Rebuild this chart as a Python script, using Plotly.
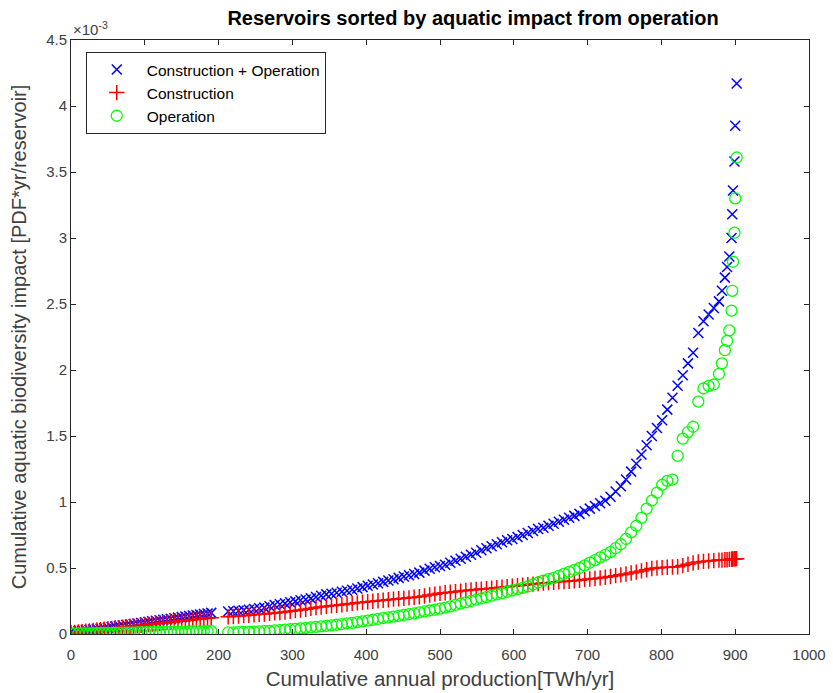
import plotly.graph_objects as go

# cumulative annual production [TWh/yr]
x_prod = [0, 5, 10, 15, 20, 25, 30, 35, 40, 45, 50, 55, 60, 65, 70, 75, 80, 85, 90, 95,
          100, 105, 110, 115, 120, 125, 130, 135, 140, 145, 150, 155, 160, 165, 170, 175, 180, 185, 190,
          213, 220, 227, 234, 241, 248, 255, 262, 269, 276, 283, 290, 297, 304, 311, 318, 325, 332, 339, 346,
          353, 360, 367, 374, 381, 388, 395, 402, 409, 416, 423, 430, 437, 444, 451, 458, 465, 472, 479, 486,
          493, 500, 507, 514, 521, 528, 535, 542, 549, 556, 563, 570, 577, 584, 591, 598, 605, 612, 619, 626,
          633, 640, 647, 654, 661, 668, 675, 682, 689, 696, 703, 710, 717, 724, 731, 738, 745, 752, 759, 766,
          773, 780, 787, 794, 801, 808, 815, 822, 829, 836, 843, 850, 857, 864, 871, 878,
          882, 886, 889, 892, 895, 896, 897, 899, 900, 902]

# Construction + Operation (x 1e-3 PDF*yr)
total_e3 = [0.018, 0.02, 0.022, 0.025, 0.028, 0.031, 0.034, 0.037, 0.04, 0.044, 0.048, 0.052, 0.056, 0.06, 0.064, 0.068, 0.072, 0.076, 0.08, 0.084,
            0.088, 0.092, 0.096, 0.1, 0.104, 0.108, 0.112, 0.116, 0.12, 0.124, 0.128, 0.132, 0.136, 0.14, 0.144, 0.148, 0.152, 0.156, 0.16,
            0.17, 0.172, 0.176, 0.18, 0.184, 0.19, 0.195, 0.2, 0.21, 0.22, 0.225, 0.232, 0.24, 0.247, 0.255, 0.262, 0.27, 0.28, 0.29, 0.3,
            0.305, 0.312, 0.32, 0.327, 0.335, 0.345, 0.355, 0.365, 0.375, 0.385, 0.395, 0.405, 0.415, 0.425, 0.435, 0.445, 0.455, 0.465, 0.48, 0.495,
            0.505, 0.515, 0.525, 0.54, 0.555, 0.57, 0.585, 0.6, 0.615, 0.635, 0.65, 0.665, 0.68, 0.695, 0.71, 0.72, 0.735, 0.75, 0.765, 0.78,
            0.795, 0.805, 0.82, 0.835, 0.85, 0.865, 0.88, 0.895, 0.91, 0.93, 0.95, 0.97, 0.99, 1.01, 1.04, 1.08, 1.12, 1.17, 1.23, 1.29,
            1.36, 1.43, 1.5, 1.56, 1.62, 1.7, 1.79, 1.88, 1.96, 2.05, 2.13, 2.28, 2.37, 2.42, 2.47, 2.52,
            2.6, 2.7, 2.78, 2.86, 3.0, 3.18, 3.36, 3.58, 3.85, 4.17]

# Construction
construction_e3 = [0.01, 0.012, 0.015, 0.018, 0.021, 0.024, 0.027, 0.03, 0.033, 0.036, 0.039, 0.042, 0.045, 0.048, 0.051, 0.054, 0.057, 0.06, 0.063, 0.066,
                   0.069, 0.072, 0.075, 0.078, 0.081, 0.084, 0.087, 0.09, 0.093, 0.096, 0.099, 0.102, 0.105, 0.108, 0.111, 0.114, 0.117, 0.12, 0.123,
                   0.13, 0.133, 0.136, 0.139, 0.142, 0.146, 0.149, 0.152, 0.156, 0.16, 0.163, 0.167, 0.172, 0.177, 0.182, 0.188, 0.194, 0.2, 0.205, 0.21,
                   0.214, 0.218, 0.222, 0.227, 0.232, 0.236, 0.24, 0.244, 0.248, 0.252, 0.256, 0.26, 0.264, 0.267, 0.27, 0.274, 0.278, 0.282, 0.288, 0.295,
                   0.302, 0.308, 0.312, 0.316, 0.32, 0.325, 0.33, 0.334, 0.337, 0.34, 0.343, 0.347, 0.35, 0.354, 0.358, 0.362, 0.366, 0.37, 0.374, 0.378,
                   0.382, 0.386, 0.389, 0.392, 0.395, 0.397, 0.4, 0.403, 0.407, 0.412, 0.417, 0.421, 0.425, 0.43, 0.436, 0.442, 0.448, 0.455, 0.462, 0.469,
                   0.478, 0.487, 0.496, 0.5, 0.503, 0.506, 0.508, 0.51, 0.518, 0.528, 0.538, 0.545, 0.55, 0.553, 0.556, 0.56,
                   0.56, 0.562, 0.563, 0.565, 0.566, 0.567, 0.568, 0.57, 0.57, 0.571]

# Operation
operation_e3 = [0.003, 0.003, 0.004, 0.004, 0.005, 0.005, 0.006, 0.006, 0.007, 0.007, 0.008, 0.008, 0.009, 0.009, 0.01, 0.01, 0.011, 0.011, 0.012, 0.012,
                0.013, 0.013, 0.014, 0.014, 0.015, 0.015, 0.016, 0.016, 0.017, 0.017, 0.018, 0.018, 0.019, 0.019, 0.02, 0.02, 0.021, 0.021, 0.022,
                0.012, 0.013, 0.014, 0.015, 0.016, 0.018, 0.02, 0.022, 0.024, 0.027, 0.03, 0.033, 0.036, 0.039, 0.042, 0.046, 0.05, 0.054, 0.058, 0.062,
                0.066, 0.07, 0.075, 0.08, 0.085, 0.09, 0.096, 0.102, 0.108, 0.114, 0.12, 0.126, 0.132, 0.138, 0.144, 0.15, 0.157, 0.164, 0.171, 0.178,
                0.185, 0.192, 0.2, 0.21, 0.22, 0.23, 0.24, 0.25, 0.26, 0.27, 0.28, 0.29, 0.3, 0.31, 0.32, 0.33, 0.34, 0.35, 0.36, 0.375,
                0.39, 0.405, 0.415, 0.425, 0.44, 0.455, 0.47, 0.485, 0.5, 0.52, 0.54, 0.56, 0.58, 0.6, 0.62, 0.65, 0.68, 0.72, 0.77, 0.82,
                0.88, 0.95, 1.01, 1.07, 1.13, 1.16, 1.17, 1.35, 1.48, 1.53, 1.57, 1.76, 1.86, 1.88, 1.89, 1.97,
                2.05, 2.15, 2.22, 2.3, 2.45, 2.6, 2.82, 3.04, 3.3, 3.61]

x_ticks = [0, 100, 200, 300, 400, 500, 600, 700, 800, 900, 1000]
y_ticks = [0, 0.5, 1, 1.5, 2, 2.5, 3, 3.5, 4, 4.5]

FONT = "Liberation Sans, Arial, Helvetica, sans-serif"
AX = "#262626"

fig = go.Figure()
fig.add_trace(go.Scatter(x=x_prod, y=total_e3, mode="markers", name="Construction + Operation",
                         marker=dict(symbol="x-thin-open", size=10, color="#0000ff",
                                     line=dict(width=1.5, color="#0000ff"))))
fig.add_trace(go.Scatter(x=x_prod, y=construction_e3, mode="markers", name="Construction",
                         marker=dict(symbol="cross-thin-open", size=11, color="#ff0000",
                                     line=dict(width=1.5, color="#ff0000"))))
fig.add_trace(go.Scatter(x=x_prod, y=operation_e3, mode="markers", name="Operation",
                         marker=dict(symbol="circle-open", size=11, color="#00ff00",
                                     line=dict(width=1.3, color="#00ff00"))))

axis_common = dict(showgrid=False, zeroline=False, showline=True, linecolor=AX, linewidth=1,
                   mirror="allticks", ticks="inside", ticklen=5, tickcolor=AX, tickwidth=1,
                   automargin=False,
                   tickfont=dict(family=FONT, size=15, color="#404040"))

fig.update_xaxes(range=[0, 1000], tickvals=x_ticks, ticktext=[str(v) for v in x_ticks],
                 ticklabelstandoff=7,
                 title=dict(text="Cumulative annual production[TWh/yr]",
                            font=dict(family=FONT, size=20.5, color="#404040"), standoff=9),
                 **axis_common)
fig.update_yaxes(range=[0, 4.5], tickvals=y_ticks, ticktext=[f"{v:g}" for v in y_ticks],
                 title=dict(text="Cumulative aquatic biodiversity impact [PDF*yr/reservoir]",
                            font=dict(family=FONT, size=20, color="#404040"), standoff=14),
                 **axis_common)

fig.update_layout(
    width=833, height=693,
    margin=dict(l=71, r=24, t=40, b=59, autoexpand=False),
    paper_bgcolor="white", plot_bgcolor="white",
    title=dict(text="<b>Reservoirs sorted by aquatic impact from operation</b>",
               x=473 / 833, xref="container", xanchor="center",
               y=1 - 18 / 693, yanchor="middle",
               font=dict(family=FONT, size=20, color="#000000")),
    legend=dict(x=0.02, y=0.98, xanchor="left", yanchor="top",
                bgcolor="white", bordercolor=AX, borderwidth=1,
                font=dict(family=FONT, size=15.5, color="#000000"),
                itemwidth=50),
    showlegend=True,
)

fig.add_annotation(text="×10<sup>-3</sup>", xref="paper", yref="paper", x=0, y=1,
                   xanchor="left", yanchor="bottom", yshift=0, showarrow=False,
                   font=dict(family=FONT, size=15, color="#404040"))

fig.write_html("out.html")
